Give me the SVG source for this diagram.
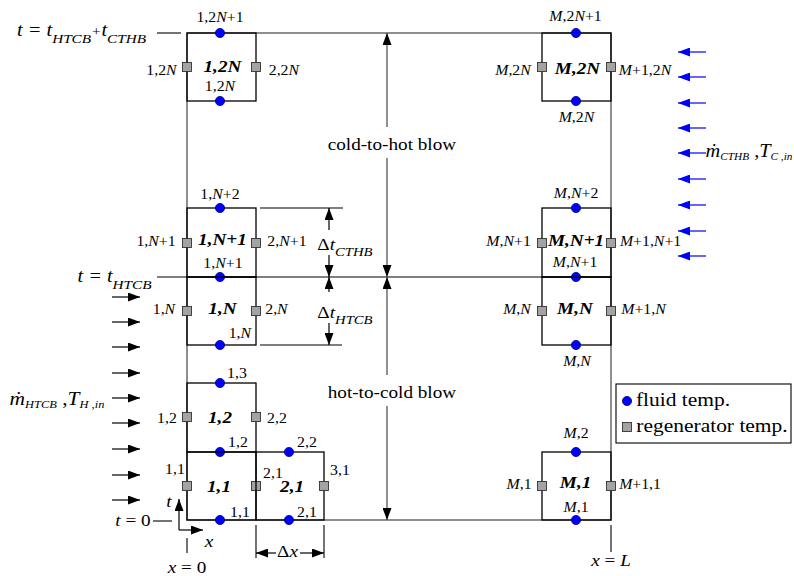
<svg xmlns="http://www.w3.org/2000/svg" xmlns:xlink="http://www.w3.org/1999/xlink" width="794" height="576" viewBox="0 0 794 576">
<defs>
<style>
text{font-family:"Liberation Serif","Times New Roman",serif;fill:#000}
.s{transform-box:fill-box;transform-origin:center;transform:scaleX(1.13)}
.n{font-size:14px;text-anchor:middle}
.b{font-size:17px;font-weight:bold;font-style:italic;text-anchor:middle}
.i{font-style:italic}
.m{font-size:17px;text-anchor:middle}
.cell{fill:none;stroke:#000;stroke-width:1.3}
.frame{fill:none;stroke:#444;stroke-width:1.2}
.fl{fill:#0000ff;stroke:#000080;stroke-width:0.8}
.rg{fill:#a3a3a3;stroke:#333;stroke-width:0.9}
.ar{stroke:#000;stroke-width:1.2;marker-end:url(#ah)}
.ag{stroke:#555;stroke-width:1.3;marker-end:url(#ah)}
.ab{stroke:#0000ff;stroke-width:1.2;marker-end:url(#abh)}
.ln{stroke:#000;stroke-width:1.1;fill:none}
</style>
<marker id="ah" markerUnits="userSpaceOnUse" markerWidth="12" markerHeight="9" refX="12" refY="4.5" orient="auto"><path d="M0,0 L12,4.5 L0,9 z" fill="#000"/></marker>
<marker id="abh" markerUnits="userSpaceOnUse" markerWidth="12" markerHeight="9" refX="12" refY="4.5" orient="auto"><path d="M0,0 L12,4.5 L0,9 z" fill="#0000ff"/></marker>
<circle id="dot" r="4.6" class="fl"/>
<rect id="sq" x="-4.5" y="-4.5" width="9" height="9" class="rg"/>
</defs>
<rect width="794" height="576" fill="#fff"/>

<g id="frame">
<rect class="frame" x="187" y="33" width="424" height="487"/>
<line class="ln" x1="157" y1="277" x2="611" y2="277" stroke-width="1.4"/>
<line class="ln" x1="157" y1="33" x2="181" y2="33"/>
<line class="ln" x1="153" y1="521" x2="172" y2="521"/>
<line class="ln" x1="260" y1="208" x2="343" y2="208"/>
<line class="ln" x1="260" y1="345" x2="342" y2="345"/>
<line class="ln" x1="187" y1="538" x2="187" y2="553"/>
<line class="ln" x1="256" y1="525" x2="256" y2="558"/>
<line class="ln" x1="324" y1="525" x2="324" y2="558"/>
<line class="ln" x1="611" y1="525" x2="611" y2="552"/>
</g>

<g id="cell-1-2N">
<rect class="cell" x="187" y="33" width="69" height="68"/>
<use href="#dot" x="220" y="33"/><use href="#dot" x="220" y="101"/>
<use href="#sq" x="187" y="67"/><use href="#sq" x="256" y="67"/>
<text class="s n" x="220" y="22">1,2<tspan class="i">N</tspan>+1</text>
<text class="s n" x="161.5" y="75">1,2<tspan class="i">N</tspan></text>
<text class="s b" x="222.5" y="72">1,2N</text>
<text class="s n" x="284" y="75">2,2<tspan class="i">N</tspan></text>
<text class="s n" x="220" y="91">1,2<tspan class="i">N</tspan></text>
</g>

<g id="cell-1-N1">
<rect class="cell" x="187" y="208" width="69" height="69"/>
<use href="#dot" x="220" y="208"/><use href="#dot" x="220" y="277"/>
<use href="#sq" x="187" y="243"/><use href="#sq" x="256" y="243"/>
<text class="s n" x="220" y="199">1,<tspan class="i">N</tspan>+2</text>
<text class="s n" x="156" y="246">1,<tspan class="i">N</tspan>+1</text>
<text class="s b" x="222.5" y="245">1,N+1</text>
<text class="s n" x="287" y="246">2,<tspan class="i">N</tspan>+1</text>
<text class="s n" x="223" y="268">1,<tspan class="i">N</tspan>+1</text>
</g>

<g id="cell-1-N">
<rect class="cell" x="187" y="277" width="69" height="68"/>
<use href="#dot" x="220" y="345"/>
<use href="#sq" x="187" y="311"/><use href="#sq" x="256" y="311"/>
<text class="s n" x="164" y="314">1,<tspan class="i">N</tspan></text>
<text class="s b" x="222.5" y="314">1,N</text>
<text class="s n" x="276.5" y="314">2,<tspan class="i">N</tspan></text>
<text class="s n" x="240" y="338">1,<tspan class="i">N</tspan></text>
</g>

<g id="cell-1-2">
<rect class="cell" x="187" y="383" width="69" height="69"/>
<use href="#dot" x="220" y="383"/><use href="#dot" x="220" y="452"/>
<use href="#sq" x="187" y="417"/><use href="#sq" x="256" y="417"/>
<text class="s n" x="237" y="378">1,3</text>
<text class="s n" x="167" y="423">1,2</text>
<text class="s b" x="220" y="423">1,2</text>
<text class="s n" x="277" y="423">2,2</text>
<text class="s n" x="238" y="447">1,2</text>
</g>

<g id="cell-1-1">
<rect class="cell" x="187" y="452" width="69" height="68"/>
<use href="#dot" x="220" y="520"/>
<use href="#sq" x="187" y="486"/><use href="#sq" x="256" y="486"/>
<text class="s n" x="175" y="474">1,1</text>
<text class="s b" x="219" y="492">1,1</text>
<text class="s n" x="240" y="517">1,1</text>
</g>

<g id="cell-2-1">
<rect class="cell" x="256" y="452" width="68" height="68"/>
<use href="#dot" x="289" y="452"/><use href="#dot" x="289" y="520"/>
<use href="#sq" x="324" y="486"/>
<text class="s n" x="307" y="447">2,2</text>
<text class="s n" x="273" y="478">2,1</text>
<text class="s b" x="292" y="492">2,1</text>
<text class="s n" x="340" y="475">3,1</text>
<text class="s n" x="307" y="517">2,1</text>
</g>

<g id="cell-M-2N">
<rect class="cell" x="542" y="33" width="69" height="68"/>
<use href="#dot" x="576" y="33"/><use href="#dot" x="576" y="101"/>
<use href="#sq" x="542" y="67"/><use href="#sq" x="611" y="67"/>
<text class="s n" x="575.5" y="21"><tspan class="i">M</tspan>,2<tspan class="i">N</tspan>+1</text>
<text class="s n" x="513" y="75"><tspan class="i">M</tspan>,2<tspan class="i">N</tspan></text>
<text class="s b" x="577.5" y="74">M,2N</text>
<text class="s n" x="645" y="75"><tspan class="i">M</tspan>+1,2<tspan class="i">N</tspan></text>
<text class="s n" x="576.5" y="122"><tspan class="i">M</tspan>,2<tspan class="i">N</tspan></text>
</g>

<g id="cell-M-N1">
<rect class="cell" x="542" y="208" width="69" height="69"/>
<use href="#dot" x="576" y="208"/><use href="#dot" x="576" y="277"/>
<use href="#sq" x="542" y="243"/><use href="#sq" x="611" y="243"/>
<text class="s n" x="576" y="198"><tspan class="i">M</tspan>,<tspan class="i">N</tspan>+2</text>
<text class="s n" x="508.5" y="246"><tspan class="i">M</tspan>,<tspan class="i">N</tspan>+1</text>
<text class="s b" x="576" y="246">M,N+1</text>
<text class="s n" x="650.5" y="246"><tspan class="i">M</tspan>+1,<tspan class="i">N</tspan>+1</text>
<text class="s n" x="575" y="267"><tspan class="i">M</tspan>,<tspan class="i">N</tspan>+1</text>
</g>

<g id="cell-M-N">
<rect class="cell" x="542" y="277" width="69" height="68"/>
<use href="#dot" x="576" y="345"/>
<use href="#sq" x="542" y="311"/><use href="#sq" x="611" y="311"/>
<text class="s n" x="517" y="314"><tspan class="i">M</tspan>,<tspan class="i">N</tspan></text>
<text class="s b" x="575" y="314">M,N</text>
<text class="s n" x="643.5" y="314"><tspan class="i">M</tspan>+1,<tspan class="i">N</tspan></text>
<text class="s n" x="577" y="366"><tspan class="i">M</tspan>,<tspan class="i">N</tspan></text>
</g>

<g id="cell-M-1">
<rect class="cell" x="542" y="452" width="69" height="68"/>
<use href="#dot" x="576" y="452"/><use href="#dot" x="576" y="520"/>
<use href="#sq" x="542" y="486"/><use href="#sq" x="611" y="486"/>
<text class="s n" x="576" y="438"><tspan class="i">M</tspan>,2</text>
<text class="s n" x="519" y="489"><tspan class="i">M</tspan>,1</text>
<text class="s b" x="575.5" y="488">M,1</text>
<text class="s n" x="640" y="489"><tspan class="i">M</tspan>+1,1</text>
<text class="s n" x="576" y="512"><tspan class="i">M</tspan>,1</text>
</g>

<g id="legend">
<rect x="616" y="384" width="175" height="59" fill="#fff" stroke="#000" stroke-width="1.1"/>
<use href="#dot" x="627" y="401"/>
<use href="#sq" x="627" y="427"/>
<text class="s" x="683" y="406" font-size="19" text-anchor="middle">fluid temp.</text>
<text class="s" x="712" y="432" font-size="19" text-anchor="middle">regenerator temp.</text>
</g>

<g id="connectors">
<line class="ag" x1="387" y1="127" x2="387" y2="33"/>
<line class="ag" x1="387" y1="158" x2="387" y2="277"/>
<line class="ag" x1="387" y1="375" x2="387" y2="277"/>
<line class="ag" x1="387" y1="406" x2="387" y2="520"/>
<line class="ar" x1="329" y1="230" x2="329" y2="208"/>
<line class="ar" x1="329" y1="255" x2="329" y2="277"/>
<line class="ar" x1="329" y1="292" x2="329" y2="277"/>
<line class="ar" x1="329" y1="323" x2="329" y2="345"/>
<line class="ar" x1="179" y1="530" x2="179" y2="499"/>
<line class="ar" x1="179" y1="530" x2="203" y2="530"/>
<line class="ar" x1="276" y1="553" x2="256" y2="553"/>
<line class="ar" x1="300" y1="553" x2="324" y2="553"/>
<line class="ar" x1="112" y1="297" x2="140" y2="297"/>
<line class="ar" x1="112" y1="322" x2="140" y2="322"/>
<line class="ar" x1="112" y1="347" x2="140" y2="347"/>
<line class="ar" x1="112" y1="373" x2="140" y2="373"/>
<line class="ar" x1="112" y1="398" x2="140" y2="398"/>
<line class="ar" x1="112" y1="423" x2="140" y2="423"/>
<line class="ar" x1="112" y1="449" x2="140" y2="449"/>
<line class="ar" x1="112" y1="475" x2="140" y2="475"/>
<line class="ar" x1="112" y1="500" x2="140" y2="500"/>
<line class="ab" x1="706" y1="52" x2="678" y2="52"/>
<line class="ab" x1="706" y1="77" x2="678" y2="77"/>
<line class="ab" x1="706" y1="103" x2="678" y2="103"/>
<line class="ab" x1="706" y1="128" x2="678" y2="128"/>
<line class="ab" x1="706" y1="153" x2="678" y2="153"/>
<line class="ab" x1="706" y1="179" x2="678" y2="179"/>
<line class="ab" x1="706" y1="205" x2="678" y2="205"/>
<line class="ab" x1="706" y1="231" x2="678" y2="231"/>
<line class="ab" x1="706" y1="256" x2="678" y2="256"/>
</g>

<g id="labels">
<text class="s" x="81.5" y="36" font-size="18" text-anchor="middle" font-style="italic">t = t<tspan font-size="13.5" dy="7">HTCB</tspan><tspan font-size="13.5" dy="-7">+</tspan>t<tspan font-size="13.5" dy="7">CTHB</tspan></text>
<text class="s" x="114.5" y="282" font-size="18" text-anchor="middle" font-style="italic">t = t<tspan font-size="13.5" dy="7">HTCB</tspan></text>
<text class="s m" x="133" y="526"><tspan class="i">t</tspan> = 0</text>
<text class="s m" x="187" y="573"><tspan class="i">x</tspan> = 0</text>
<text class="s m" x="611" y="566"><tspan class="i">x</tspan> = <tspan class="i">L</tspan></text>
<text class="s m" x="287.5" y="557">Δ<tspan class="i">x</tspan></text>
<text class="s m i" x="169" y="507">t</text>
<text class="s m i" x="209" y="547">x</text>
<text class="s m" x="392" y="150">cold-to-hot blow</text>
<text class="s m" x="392" y="398">hot-to-cold blow</text>
<text class="s m" x="345" y="250">Δ<tspan class="i">t</tspan><tspan class="i" font-size="13" dy="6">CTHB</tspan></text>
<text class="s m" x="345" y="318">Δ<tspan class="i">t</tspan><tspan class="i" font-size="13" dy="6">HTCB</tspan></text>
<text class="s" x="57" y="405" font-size="19" text-anchor="middle"><tspan class="i">ṁ</tspan><tspan class="i" font-size="11" dy="3">HTCB</tspan><tspan dy="-3"> ,</tspan><tspan class="i">T</tspan><tspan class="i" font-size="11" dy="3">H ,in</tspan></text>
<text class="s" x="749" y="157" font-size="18" text-anchor="middle"><tspan class="i">ṁ</tspan><tspan class="i" font-size="10" dy="3">CTHB</tspan><tspan dy="-3"> ,</tspan><tspan class="i">T</tspan><tspan class="i" font-size="10" dy="3">C ,in</tspan></text>
</g>
</svg>
